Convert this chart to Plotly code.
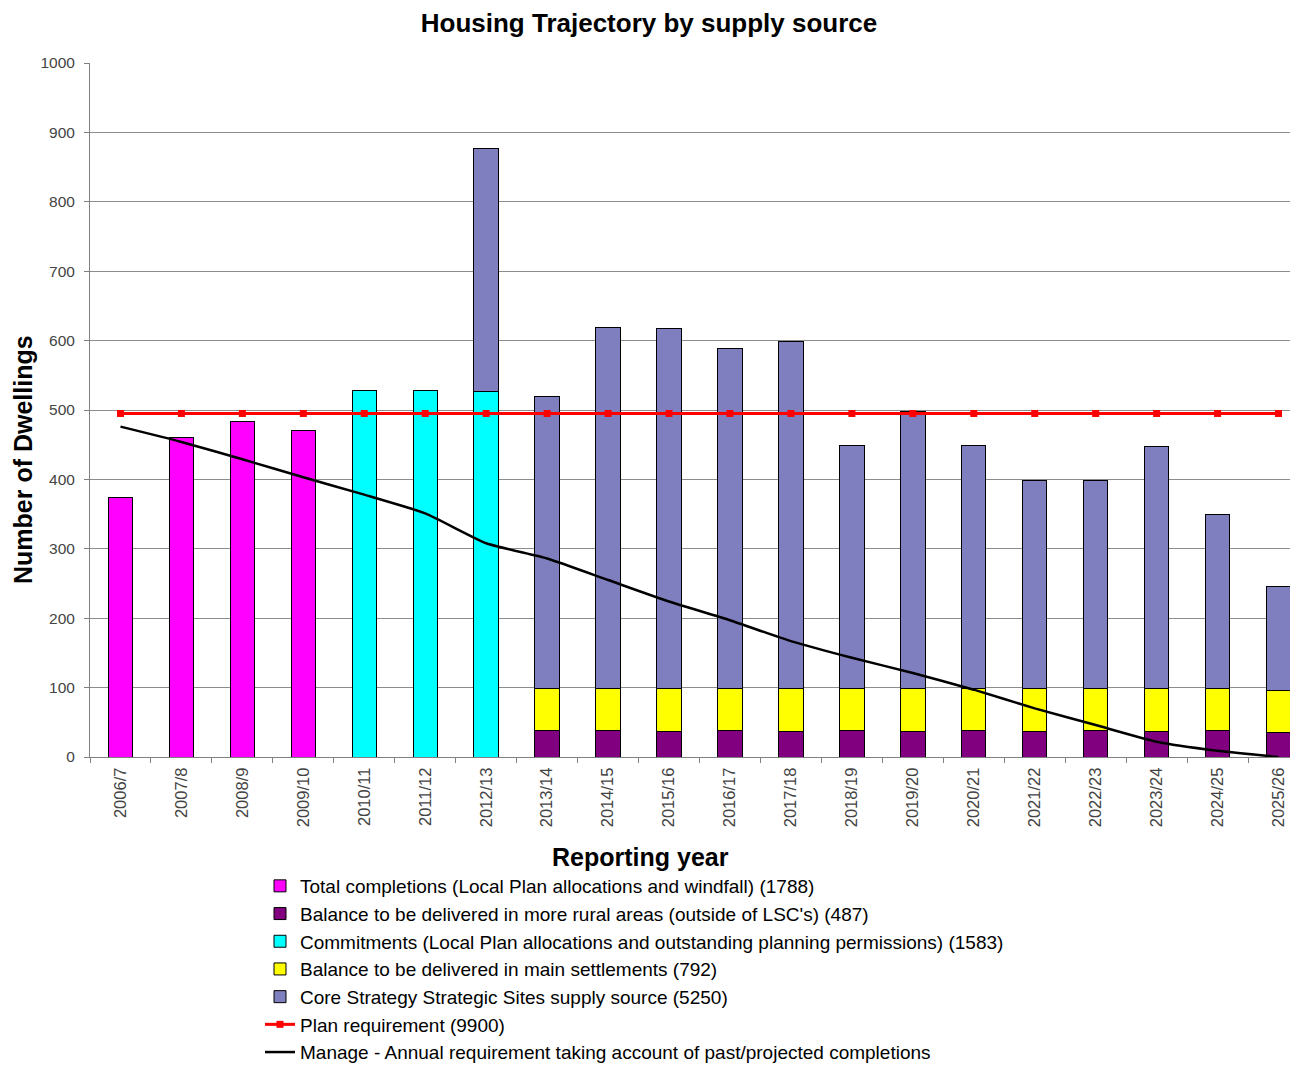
import plotly.graph_objects as go

years = ["2006/7", "2007/8", "2008/9", "2009/10", "2010/11", "2011/12", "2012/13",
         "2013/14", "2014/15", "2015/16", "2016/17", "2017/18", "2018/19", "2019/20",
         "2020/21", "2021/22", "2022/23", "2023/24", "2024/25", "2025/26"]

completions = [374, 460, 484, 470] + [None] * 16
rural = [None] * 7 + [38, 38, 37, 38, 37, 38, 37, 38, 37, 38, 37, 38, 36]
commitments = [None] * 4 + [528, 528, 527] + [None] * 13
main_settle = [None] * 7 + [61, 61, 61, 61, 61, 61, 61, 61, 61, 61, 61, 61, 60]
core = [None] * 6 + [350, 420, 520, 520, 490, 500, 350, 400, 350, 300, 300, 350, 250, 150]
plan_req = [495] * 20
manage = [476, 454, 429, 403, 378, 351, 308, 286, 255, 224, 197, 167, 143, 121,
          97, 70, 46, 22, 9, 0]

names = [
    "Total completions (Local Plan allocations and windfall) (1788)",
    "Balance to be delivered in more rural areas (outside of LSC's) (487)",
    "Commitments (Local Plan allocations and outstanding planning permissions) (1583)",
    "Balance to be delivered in main settlements (792)",
    "Core Strategy Strategic Sites supply source (5250)",
    "Plan requirement (9900)",
    "Manage - Annual requirement taking account of past/projected completions",
]

FONT = "Liberation Sans, Arial, sans-serif"
OFF = 8  # page body margin
W, H = 1298 - 2 * OFF, 1072 - 2 * OFF
# target positions in window pixels, converted to figure pixels
L, T, B = 90 - OFF, 63 - OFF, 757 - OFF
plot_w = W - L
plot_h = B - T
CAT_PX = 60.95  # category spacing in pixels


def px_x(x):
    return (x - OFF - L) / plot_w


def px_y(y):
    return (B - (y - OFF)) / plot_h


fig = go.Figure()
bar_series = [
    (completions, "#FF00FF"),
    (rural, "#800080"),
    (commitments, "#00FFFF"),
    (main_settle, "#FFFF00"),
    (core, "#7F7FBF"),
]
for (vals, col), nm in zip(bar_series, names[:5]):
    fig.add_trace(go.Bar(x=years, y=vals, name=nm, width=0.4,
                         marker=dict(color=col, line=dict(color="#000000", width=1))))

fig.add_trace(go.Scatter(x=years, y=plan_req, name=names[5], mode="lines+markers",
                         line=dict(color="#FF0000", width=3),
                         marker=dict(symbol="square", size=7, color="#FF0000")))
fig.add_trace(go.Scatter(x=years, y=manage, name=names[6], mode="lines",
                         line=dict(color="#000000", width=2.5, shape="spline", smoothing=0.5)))

fig.update_layout(
    width=W, height=H,
    margin=dict(l=L, r=0, t=T, b=H - B, autoexpand=False),
    paper_bgcolor="white", plot_bgcolor="white",
    barmode="stack",
    font=dict(family=FONT, color="#000000"),
    title=dict(text="<b>Housing Trajectory by supply source</b>", x=(649 - OFF) / W,
               xanchor="center", y=1 - (23 - OFF) / H, yanchor="middle",
               font=dict(size=26, family=FONT)),
    showlegend=True,
    legend=dict(x=px_x(260), y=px_y(867), xanchor="left", yanchor="top",
                traceorder="normal", font=dict(size=19, family=FONT),
                itemwidth=30, bgcolor="rgba(0,0,0,0)", tracegroupgap=0),
    xaxis=dict(type="category", range=[-0.5, -0.5 + plot_w / CAT_PX], tickangle=-90,
               automargin=False, tickfont=dict(size=16.5, color="#444444"),
               ticks="outside", tickson="boundaries", ticklen=5, tickcolor="#808080",
               ticklabelstandoff=3,
               showline=True, linecolor="#808080", linewidth=1, showgrid=False),
    yaxis=dict(range=[0, 1000], dtick=100, automargin=False,
               tickfont=dict(size=15.5, color="#444444"),
               ticks="outside", ticklen=5, tickcolor="#808080", ticklabelstandoff=6,
               showline=True, linecolor="#808080", linewidth=1,
               showgrid=True, gridcolor="#8c8c8c", gridwidth=1, zeroline=False),
    annotations=[
        dict(text="<b>Reporting year</b>", xref="paper", yref="paper",
             x=px_x(640), y=px_y(857), xanchor="center", yanchor="middle",
             showarrow=False, font=dict(size=25, family=FONT)),
        dict(text="<b>Number of Dwellings</b>", xref="paper", yref="paper",
             x=px_x(23), y=px_y(460), xanchor="center", yanchor="middle",
             textangle=-90, showarrow=False, font=dict(size=25, family=FONT)),
    ],
)

fig.write_html("out.html")
